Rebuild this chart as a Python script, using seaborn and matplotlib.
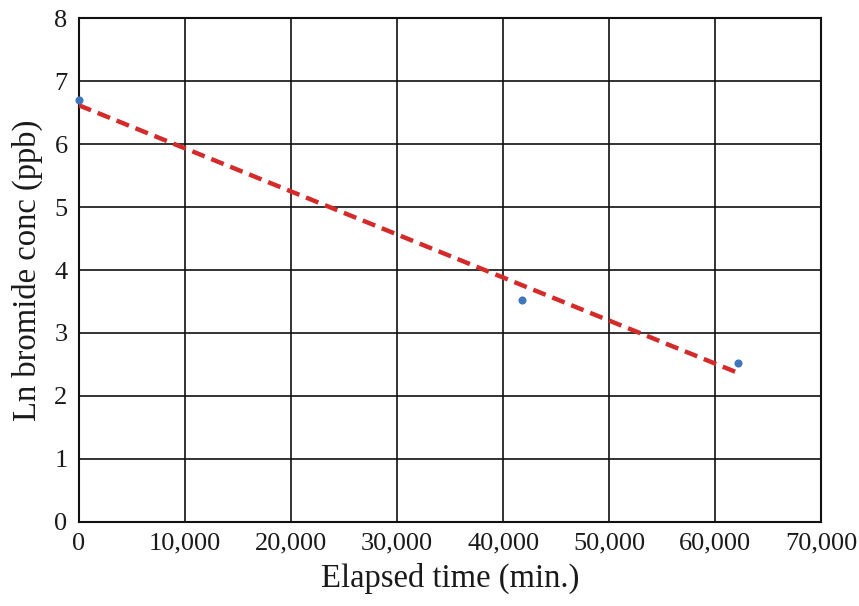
import matplotlib
matplotlib.use("Agg")
import matplotlib.pyplot as plt
import seaborn as sns
import pandas as pd
from matplotlib.ticker import FuncFormatter

# Data
elapsed_min = [0, 41780, 62110]
ln_bromide = [6.70, 3.52, 2.53]

x_ticks = [0, 10000, 20000, 30000, 40000, 50000, 60000, 70000]
y_ticks = [0, 1, 2, 3, 4, 5, 6, 7, 8]

df = pd.DataFrame({"Elapsed time (min.)": elapsed_min,
                   "Ln bromide conc (ppb)": ln_bromide})

sns.set_theme(style="white")
plt.rcParams['font.family'] = ['Liberation Serif', 'DejaVu Serif']

fig = plt.figure(figsize=(8.59, 6.06), dpi=100)
ax = fig.add_axes([0.0916, 0.1391, 0.9562 - 0.0916, 0.9695 - 0.1391])

sns.regplot(data=df, x="Elapsed time (min.)", y="Ln bromide conc (ppb)",
            ci=None, ax=ax, truncate=True,
            scatter_kws=dict(color="#3f77bd", s=34, linewidths=0, alpha=1,
                             zorder=4, clip_on=False),
            line_kws=dict(color="#d42a2a", lw=3.2, ls=(0, (3.0, 1.6)), zorder=3))

ax.set_xlim(0, 70000)
ax.set_ylim(0, 8)
ax.set_xticks(x_ticks)
ax.set_yticks(y_ticks)
ax.xaxis.set_major_formatter(FuncFormatter(lambda v, p: "0" if v == 0 else f"{int(v):,}"))
ax.grid(True, color="#111111", lw=1.2)
ax.set_axisbelow(True)
for s in ax.spines.values():
    s.set_color("#111111")
    s.set_linewidth(1.5)
ax.tick_params(axis="both", length=0, labelsize=19, colors="#1a1a1a", pad=8)
ax.set_xlabel("Elapsed time (min.)", fontsize=23.5, color="#1a1a1a", labelpad=6)
ax.set_ylabel("Ln bromide conc (ppb)", fontsize=23.5, color="#1a1a1a", labelpad=8)

fig.savefig("out.png", dpi=100, facecolor="white")
